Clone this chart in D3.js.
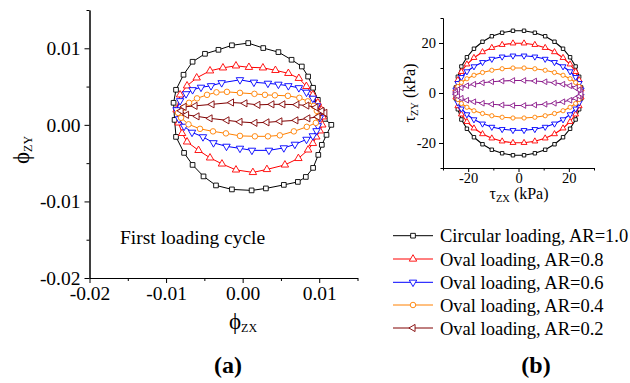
<!DOCTYPE html>
<html>
<head>
<meta charset="utf-8">
<script src="https://cdn.jsdelivr.net/npm/d3@7"></script>
<style>
  html, body { margin: 0; padding: 0; background: #fff; }
  svg { display: block; }
  svg text { font-family: "Liberation Serif", "Times New Roman", serif !important; }
</style>
</head>
<body>
<svg id="chart" width="630" height="383"></svg>
<script>
// ---------- Data: panel (a) — twist angles phi_zx, phi_zy ----------
const phiX_AR10 = [0.01158,0.01095,0.01034,0.00988,0.00920,0.00825,0.00721,0.00538,0.00304,0.00117,-0.00140,-0.00348,-0.00511,-0.00654,-0.00765,-0.00870,-0.00889,-0.00902,-0.00870,-0.00772,-0.00654,-0.00492,-0.00316,-0.00140,0.00073,0.00269,0.00467,0.00639,0.00773,0.00855,0.00920,0.00982,0.01034,0.01073];
const phiY_AR10 = [0.00000,-0.00131,-0.00261,-0.00392,-0.00562,-0.00680,-0.00745,-0.00784,-0.00830,-0.00856,-0.00843,-0.00791,-0.00673,-0.00523,-0.00366,-0.00157,0.00065,0.00288,0.00458,0.00654,0.00824,0.00928,0.00980,0.01039,0.01068,0.01003,0.00950,0.00850,0.00762,0.00631,0.00484,0.00327,0.00183,0.00078];

const phiX_AR08 = [0.01040,0.01008,0.00962,0.00917,0.00855,0.00728,0.00552,0.00317,0.00134,-0.00087,-0.00270,-0.00426,-0.00576,-0.00726,-0.00791,-0.00837,-0.00863,-0.00817,-0.00726,-0.00600,-0.00426,-0.00257,-0.00087,0.00082,0.00265,0.00428,0.00597,0.00734,0.00832,0.00917,0.00982,0.01027,0.01047];
const phiY_AR08 = [0.00000,-0.00078,-0.00157,-0.00242,-0.00327,-0.00438,-0.00523,-0.00582,-0.00621,-0.00588,-0.00510,-0.00431,-0.00333,-0.00222,-0.00111,0.00026,0.00196,0.00392,0.00510,0.00614,0.00706,0.00745,0.00771,0.00752,0.00745,0.00712,0.00673,0.00608,0.00503,0.00392,0.00288,0.00196,0.00105];

const phiX_AR06 = [0.01008,0.00982,0.00965,0.00917,0.00834,0.00682,0.00538,0.00343,0.00121,-0.00035,-0.00211,-0.00381,-0.00518,-0.00661,-0.00765,-0.00831,-0.00863,-0.00817,-0.00739,-0.00654,-0.00544,-0.00413,-0.00274,-0.00035,0.00147,0.00330,0.00467,0.00597,0.00734,0.00834,0.00917,0.00969,0.00995];
const phiY_AR06 = [0.00092,-0.00013,-0.00078,-0.00144,-0.00190,-0.00255,-0.00301,-0.00333,-0.00333,-0.00307,-0.00281,-0.00235,-0.00157,-0.00098,-0.00020,0.00078,0.00196,0.00314,0.00405,0.00458,0.00490,0.00510,0.00549,0.00588,0.00556,0.00542,0.00529,0.00510,0.00484,0.00425,0.00346,0.00248,0.00170];

const phiX_AR04 = [0.00982,0.00956,0.00838,0.00669,0.00486,0.00330,0.00160,-0.00035,-0.00218,-0.00387,-0.00557,-0.00707,-0.00804,-0.00844,-0.00778,-0.00700,-0.00596,-0.00465,-0.00342,-0.00205,-0.00035,0.00154,0.00291,0.00421,0.00591,0.00741,0.00851,0.00930,0.00969];
const phiY_AR04 = [0.00105,0.00026,-0.00026,-0.00085,-0.00137,-0.00150,-0.00150,-0.00144,-0.00111,-0.00085,-0.00052,0.00007,0.00092,0.00157,0.00222,0.00288,0.00346,0.00392,0.00425,0.00431,0.00418,0.00405,0.00392,0.00386,0.00379,0.00353,0.00307,0.00248,0.00183];

const phiX_AR02 = [0.01073,0.00982,0.00851,0.00695,0.00486,0.00317,0.00160,-0.00035,-0.00205,-0.00426,-0.00596,-0.00733,-0.00804,-0.00765,-0.00622,-0.00400,-0.00146,0.00030,0.00199,0.00382,0.00525,0.00708,0.00838,0.00956,0.01034];
const phiY_AR02 = [0.00157,0.00105,0.00085,0.00059,0.00046,0.00033,0.00026,0.00039,0.00059,0.00085,0.00111,0.00131,0.00183,0.00235,0.00248,0.00268,0.00292,0.00281,0.00261,0.00268,0.00268,0.00264,0.00252,0.00229,0.00183];

// ---------- Data: panel (b) — applied shear stress paths (kPa) ----------
const tauX = [24.9,24.1,22.7,20.5,17.7,14.3,10.6,6.5,2.2,-2.2,-6.5,-10.6,-14.3,-17.7,-20.5,-22.7,-24.1,-24.9,-24.9,-24.1,-22.7,-20.5,-17.7,-14.3,-10.6,-6.5,-2.2,2.2,6.5,10.6,14.3,17.7,20.5,22.7,24.1,24.9];
const tauY_AR10 = [2.2,6.5,10.6,14.3,17.7,20.5,22.7,24.1,24.9,24.9,24.1,22.7,20.5,17.7,14.3,10.6,6.5,2.2,-2.2,-6.5,-10.6,-14.3,-17.7,-20.5,-22.7,-24.1,-24.9,-24.9,-24.1,-22.7,-20.5,-17.7,-14.3,-10.6,-6.5,-2.2];
const tauY_AR08 = [1.7,5.2,8.5,11.5,14.1,16.4,18.1,19.3,19.9,19.9,19.3,18.1,16.4,14.1,11.5,8.5,5.2,1.7,-1.7,-5.2,-8.5,-11.5,-14.1,-16.4,-18.1,-19.3,-19.9,-19.9,-19.3,-18.1,-16.4,-14.1,-11.5,-8.5,-5.2,-1.7];
const tauY_AR06 = [1.3,3.9,6.3,8.6,10.6,12.3,13.6,14.5,14.9,14.9,14.5,13.6,12.3,10.6,8.6,6.3,3.9,1.3,-1.3,-3.9,-6.3,-8.6,-10.6,-12.3,-13.6,-14.5,-14.9,-14.9,-14.5,-13.6,-12.3,-10.6,-8.6,-6.3,-3.9,-1.3];
const tauY_AR04 = [0.9,2.6,4.2,5.7,7.1,8.2,9.1,9.7,10.0,10.0,9.7,9.1,8.2,7.1,5.7,4.2,2.6,0.9,-0.9,-2.6,-4.2,-5.7,-7.1,-8.2,-9.1,-9.7,-10.0,-10.0,-9.7,-9.1,-8.2,-7.1,-5.7,-4.2,-2.6,-0.9];
const tauY_AR02 = [0.4,1.3,2.1,2.9,3.5,4.1,4.5,4.8,5.0,5.0,4.8,4.5,4.1,3.5,2.9,2.1,1.3,0.4,-0.4,-1.3,-2.1,-2.9,-3.5,-4.1,-4.5,-4.8,-5.0,-5.0,-4.8,-4.5,-4.1,-3.5,-2.9,-2.1,-1.3,-0.4];

// ---------- Labels / ticks ----------
const legendLabels = ["Circular loading, AR=1.0","Oval loading, AR=0.8","Oval loading, AR=0.6","Oval loading, AR=0.4","Oval loading, AR=0.2"];
const phiTicks = [-0.02,-0.01,0.00,0.01];
const phiMinorTicks = [-0.015,-0.005,0.005,0.015];
const tauTicks = [-20,0,20];
const tauMinorTicks = [-30,-10,10,30];
const annotation = "First loading cycle";

// ---------- Styles ----------
const colorsA = ["#000000","#ff0000","#0000ff","#ff8000","#800000"];
const colorsB = ["#000000","#ff0000","#0000ff","#ff8000","#8b1a8b"];
const shapes = ["square","up","down","circle","left"];

const svg = d3.select("#chart");
const FONT = '"Liberation Serif","Times New Roman",serif';

function symbolPath(shape, size) {
  if (shape === "square") return d3.symbol(d3.symbolSquare, size)();
  if (shape === "circle") return d3.symbol(d3.symbolCircle, size)();
  return d3.symbol(d3.symbolTriangle, size)();
}
function symbolRot(shape) {
  if (shape === "down") return 180;
  if (shape === "left") return -90;
  return 0;
}

function drawSeries(g, xs, ys, xv, yv, color, shape, msize, lw) {
  const pts = xv.map((v, i) => [v, yv[i]]);
  g.append("path")
    .datum(pts)
    .attr("fill", "none")
    .attr("stroke", color)
    .attr("stroke-width", lw)
    .attr("d", d3.line().x(d => xs(d[0])).y(d => ys(d[1])).curve(d3.curveLinearClosed));
  g.selectAll(null).data(pts).enter().append("path")
    .attr("d", symbolPath(shape, msize))
    .attr("transform", d => `translate(${xs(d[0])},${ys(d[1])}) rotate(${symbolRot(shape)})`)
    .attr("fill", "#fff")
    .attr("stroke", color)
    .attr("stroke-width", 0.9);
}

function styleAxis(sel, size) {
  sel.attr("font-family", FONT).attr("font-size", size);
  sel.selectAll("path.domain").attr("stroke", "#000").attr("stroke-width", 1);
  sel.selectAll("line").attr("stroke", "#000").attr("stroke-width", 1);
  sel.selectAll("text").attr("fill", "#000").style("font-family", FONT).style("font-size", size + "px");
}

// ================= Panel (a) =================
const xA = d3.scaleLinear().domain([-0.02, 0.015]).range([89.5, 357.5]);
const yA = d3.scaleLinear().domain([-0.02, 0.015]).range([278, 10]);
const fmtPhi = d => d.toFixed(2).replace("-0.00", "0.00");

const gA = svg.append("g");
gA.append("g").attr("transform", "translate(0,278)")
  .call(d3.axisBottom(xA).tickValues(phiMinorTicks).tickFormat("").tickSize(3).tickSizeOuter(0))
  .call(s => styleAxis(s, 19.5));
gA.append("g").attr("transform", "translate(0,278)")
  .call(d3.axisBottom(xA).tickValues(phiTicks).tickFormat(fmtPhi).tickSize(5).tickSizeOuter(0).tickPadding(3))
  .call(s => styleAxis(s, 19.5));
gA.append("g").attr("transform", "translate(89.5,0)")
  .call(d3.axisLeft(yA).tickValues(phiMinorTicks).tickFormat("").tickSize(3).tickSizeOuter(0))
  .call(s => styleAxis(s, 19.5));
gA.append("g").attr("transform", "translate(89.5,0)")
  .call(d3.axisLeft(yA).tickValues(phiTicks).tickFormat(fmtPhi).tickSize(5).tickSizeOuter(0).tickPadding(4))
  .call(s => styleAxis(s, 19.5));

const dataA = [
  [phiX_AR10, phiY_AR10], [phiX_AR08, phiY_AR08], [phiX_AR06, phiY_AR06],
  [phiX_AR04, phiY_AR04], [phiX_AR02, phiY_AR02]
];
const sizeA = {square: 22, up: 24, down: 24, circle: 24, left: 22};
dataA.forEach((d, i) => drawSeries(gA, xA, yA, d[0], d[1], colorsA[i], shapes[i], sizeA[shapes[i]], 1));

gA.append("text").attr("x", 120).attr("y", 244).style("font-size", "19.5px")
  .text(annotation);

// axis titles (a)
const xt = gA.append("text").attr("x", 243).attr("y", 329).attr("text-anchor", "middle");
xt.append("tspan").style("font-size", "23px").text("ϕ");
xt.append("tspan").style("font-size", "12px").attr("dy", 3).text("ZX");
const yt = gA.append("text").attr("transform", "translate(29,150) rotate(-90)").attr("text-anchor", "middle");
yt.append("tspan").style("font-size", "23px").text("ϕ");
yt.append("tspan").style("font-size", "12px").attr("dy", 3).text("ZY");

// ================= Panel (b) inset =================
const xB = d3.scaleLinear().domain([-30, 30]).range([443, 594]);
const yB = d3.scaleLinear().domain([-30, 30]).range([168, 18]);
const gB = svg.append("g");
gB.append("g").attr("transform", "translate(0,168)")
  .call(d3.axisBottom(xB).tickValues(tauMinorTicks).tickFormat("").tickSize(2.5).tickSizeOuter(0))
  .call(s => styleAxis(s, 14.5));
gB.append("g").attr("transform", "translate(0,168)")
  .call(d3.axisBottom(xB).tickValues(tauTicks).tickFormat(d => String(d)).tickSize(4).tickSizeOuter(0).tickPadding(1))
  .call(s => styleAxis(s, 14.5));
gB.append("g").attr("transform", "translate(443,0)")
  .call(d3.axisLeft(yB).tickValues(tauMinorTicks).tickFormat("").tickSize(2.5).tickSizeOuter(0))
  .call(s => styleAxis(s, 14.5));
gB.append("g").attr("transform", "translate(443,0)")
  .call(d3.axisLeft(yB).tickValues(tauTicks).tickFormat(d => String(d)).tickSize(4).tickSizeOuter(0).tickPadding(3))
  .call(s => styleAxis(s, 14.5));

const dataB = [tauY_AR10, tauY_AR08, tauY_AR06, tauY_AR04, tauY_AR02];
const sizeB = {square: 12, up: 15, down: 15, circle: 14, left: 14};
dataB.forEach((ys, i) => drawSeries(gB, xB, yB, tauX, ys, colorsB[i], shapes[i], sizeB[shapes[i]], 1.1));

const bxt = gB.append("text").attr("x", 519).attr("y", 199).attr("text-anchor", "middle").style("font-size", "16px");
bxt.append("tspan").text("τ");
bxt.append("tspan").style("font-size", "10.5px").attr("dy", 3).text("ZX");
bxt.append("tspan").attr("dy", -3).text(" (kPa)");
const byt = gB.append("text").attr("transform", "translate(415,93) rotate(-90)").attr("text-anchor", "middle").style("font-size", "16px");
byt.append("tspan").text("τ");
byt.append("tspan").style("font-size", "10.5px").attr("dy", 3).text("ZY");
byt.append("tspan").attr("dy", -3).text(" (kPa)");

// ================= Legend =================
const legendY = [235.7, 259, 282.3, 305, 328];
const gL = svg.append("g");
legendLabels.forEach((lab, i) => {
  const y = legendY[i];
  gL.append("line").attr("x1", 393).attr("x2", 433).attr("y1", y).attr("y2", y)
    .attr("stroke", colorsA[i]).attr("stroke-width", 1);
  gL.append("path").attr("d", symbolPath(shapes[i], sizeA[shapes[i]]))
    .attr("transform", `translate(413,${y}) rotate(${symbolRot(shapes[i])})`)
    .attr("fill", "#fff").attr("stroke", colorsA[i]).attr("stroke-width", 0.9);
  gL.append("text").attr("x", 440).attr("y", y + 6.5).style("font-size", "18.5px").text(lab);
});

// ================= Panel labels =================
svg.append("text").attr("x", 228).attr("y", 372.5).attr("text-anchor", "middle")
  .attr("font-weight", "bold").style("font-size", "24px").text("(a)");
svg.append("text").attr("x", 536).attr("y", 372.5).attr("text-anchor", "middle")
  .attr("font-weight", "bold").style("font-size", "24px").text("(b)");
</script>
</body>
</html>
